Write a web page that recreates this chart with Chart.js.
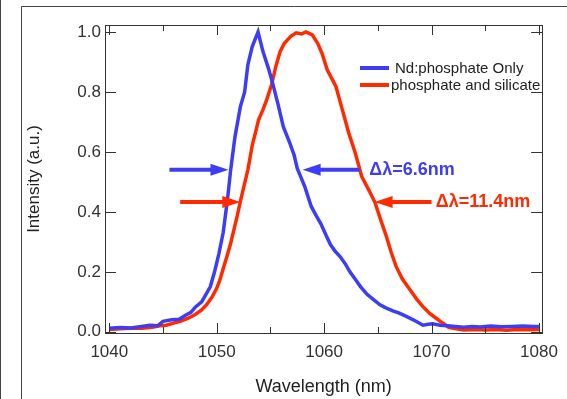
<!DOCTYPE html>
<html lang="en">
<head>
    <meta charset="UTF-8">
    <title>Emission spectra</title>
    <script src="https://cdn.jsdelivr.net/npm/chart.js"></script>
    <style>
        body {
            margin: 0;
            background: #fff;
        }
        #wrap {
            width: 567px;
            height: 399px;
        }
    </style>
</head>
<body>
    <div id="wrap"><canvas id="spec" width="567" height="399"></canvas></div>

    <script>
        // Nd:phosphate only (blue)
        const blueX = [1040.0, 1041.0, 1042.0, 1043.0, 1043.8, 1044.5, 1045.0, 1045.8, 1046.5, 1047.1,
            1047.6, 1048.0, 1048.6, 1049.0, 1049.4, 1049.8, 1050.2, 1050.6, 1051.0, 1051.3,
            1051.7, 1052.2, 1052.6, 1052.9, 1053.3, 1053.85, 1054.3, 1054.8, 1055.2, 1055.7,
            1056.2, 1056.8, 1057.2, 1057.5, 1058.2, 1058.8, 1059.3, 1059.7, 1060.2, 1060.6,
            1061.0, 1061.5, 1062.0, 1062.4, 1062.9, 1063.4, 1064.0, 1064.6, 1065.2, 1065.8,
            1066.4, 1067.0, 1067.6, 1068.3, 1068.8, 1069.2, 1069.7, 1070.1, 1070.8, 1071.5,
            1072.2, 1073.0, 1073.8, 1074.5, 1075.5, 1076.5, 1077.5, 1078.5, 1079.5, 1080.0];
        const blueY = [0.012, 0.014, 0.013, 0.018, 0.022, 0.020, 0.035, 0.040, 0.042, 0.055,
            0.065, 0.082, 0.100, 0.125, 0.150, 0.200, 0.260, 0.330, 0.440, 0.540,
            0.650, 0.750, 0.800, 0.890, 0.950, 1.000, 0.935, 0.880, 0.830, 0.760,
            0.684, 0.630, 0.590, 0.545, 0.484, 0.418, 0.385, 0.360, 0.320, 0.290,
            0.270, 0.250, 0.225, 0.200, 0.175, 0.150, 0.125, 0.107, 0.090, 0.079,
            0.070, 0.062, 0.052, 0.040, 0.030, 0.022, 0.025, 0.027, 0.022, 0.020,
            0.018, 0.015, 0.018, 0.016, 0.019, 0.017, 0.018, 0.019, 0.018, 0.018];

        // phosphate and silicate (red)
        const redX = [1040.0, 1041.0, 1042.0, 1043.0, 1044.0, 1044.7, 1045.3, 1045.9, 1046.6, 1047.4,
            1048.0, 1048.6, 1049.1, 1049.6, 1050.0, 1050.3, 1050.6, 1050.95, 1051.3, 1051.6,
            1051.9, 1052.2, 1052.5, 1052.9, 1053.3, 1053.9, 1054.3, 1054.6, 1055.1, 1055.5,
            1055.9, 1056.3, 1056.9, 1057.4, 1057.9, 1058.3, 1058.6, 1058.9, 1059.4, 1059.8,
            1060.3, 1061.1, 1061.7, 1062.3, 1062.9, 1063.5, 1064.2, 1064.75, 1065.3, 1065.8,
            1066.2, 1066.7, 1067.3, 1068.0, 1068.6, 1069.2, 1069.8, 1070.4, 1071.0, 1071.6,
            1072.3, 1073.0, 1074.0, 1075.0, 1076.0, 1077.0, 1078.0, 1079.0, 1080.0];
        const redY = [0.008, 0.010, 0.012, 0.012, 0.015, 0.020, 0.022, 0.028, 0.035, 0.046,
            0.058, 0.073, 0.092, 0.118, 0.145, 0.173, 0.210, 0.251, 0.295, 0.340,
            0.385, 0.434, 0.480, 0.540, 0.620, 0.707, 0.740, 0.768, 0.823, 0.884,
            0.934, 0.962, 0.985, 0.997, 0.993, 1.000, 0.995, 0.990, 0.962, 0.929,
            0.873, 0.818, 0.740, 0.662, 0.596, 0.518, 0.470, 0.430, 0.370, 0.318,
            0.270, 0.218, 0.175, 0.140, 0.110, 0.084, 0.062, 0.046, 0.030, 0.015,
            0.010, 0.006, 0.008, 0.006, 0.008, 0.005, 0.008, 0.007, 0.008];

        const seriesNames = ['Nd:phosphate Only', 'phosphate and silicate'];
        const seriesColors = ['#3d3df7', '#ff2a00'];

        // FWHM markers: [fromX, toX, y] in data units, arrow head at toX
        const blueArrows = [[1045.6, 1051.1, 0.54], [1063.3, 1058.0, 0.54]];
        const redArrows = [[1046.6, 1052.2, 0.433], [1070.0, 1064.7, 0.433]];
        const fwhmLabels = ['\u0394\u03bb=6.6nm', '\u0394\u03bb=11.4nm'];
        const fwhmLabelPos = [[1064.2, 0.54], [1070.4, 0.433]];

        const FONT = '"Liberation Sans", Arial, sans-serif';
        const INK = '#333';

        const toPoints = (xs, ys) => xs.map((x, i) => ({ x: x, y: ys[i] }));

        const framePlugin = {
            id: 'frame',
            beforeDraw(chart) {
                const c = chart.ctx;
                c.save();
                c.strokeStyle = '#444';
                c.lineWidth = 1;
                c.beginPath();
                c.moveTo(0.5, 0); c.lineTo(0.5, 399);
                c.moveTo(21.5, 6.5); c.lineTo(21.5, 399);
                c.moveTo(21.5, 6.5); c.lineTo(567, 6.5);
                c.stroke();
                c.restore();
            },
            afterDraw(chart) {
                const c = chart.ctx;
                const a = chart.chartArea;
                const xs = chart.scales.x, ys = chart.scales.y;
                c.save();
                c.strokeStyle = INK;
                c.lineWidth = 1;
                c.strokeRect(Math.round(a.left) + 0.5, Math.round(a.top) + 0.5,
                    Math.round(a.right - a.left), Math.round(a.bottom - a.top));

                // inward ticks on all four sides
                c.beginPath();
                for (let v = 1040; v <= 1080; v += 5) {
                    const px = Math.round(xs.getPixelForValue(v)) + 0.5;
                    const len = v % 10 === 0 ? 10 : 6;
                    c.moveTo(px, a.bottom); c.lineTo(px, a.bottom - len);
                    c.moveTo(px, a.top); c.lineTo(px, a.top + len);
                }
                for (let k = 0; k <= 5; k++) {
                    const py = Math.round(ys.getPixelForValue(k * 0.2)) + 0.5;
                    c.moveTo(a.left, py); c.lineTo(a.left + 11, py);
                    c.moveTo(a.right, py); c.lineTo(a.right - 11, py);
                }
                c.stroke();

                // FWHM arrows
                const arrow = (from, to, y, color) => {
                    const x0 = xs.getPixelForValue(from), x1 = xs.getPixelForValue(to);
                    const py = ys.getPixelForValue(y);
                    const dir = x1 > x0 ? 1 : -1;
                    c.strokeStyle = color;
                    c.fillStyle = color;
                    c.lineWidth = 4;
                    c.beginPath();
                    c.moveTo(x0, py); c.lineTo(x1 - dir * 14, py);
                    c.stroke();
                    c.beginPath();
                    c.moveTo(x1, py);
                    c.lineTo(x1 - dir * 18, py - 6);
                    c.lineTo(x1 - dir * 18, py + 6);
                    c.closePath();
                    c.fill();
                };
                blueArrows.forEach(r => arrow(r[0], r[1], r[2], seriesColors[0]));
                redArrows.forEach(r => arrow(r[0], r[1], r[2], seriesColors[1]));

                c.font = 'bold 18px ' + FONT;
                c.textBaseline = 'middle';
                c.textAlign = 'left';
                fwhmLabels.forEach((t, i) => {
                    c.fillStyle = seriesColors[i];
                    c.fillText(t, xs.getPixelForValue(fwhmLabelPos[i][0]), ys.getPixelForValue(fwhmLabelPos[i][1]));
                });

                // legend
                const legendY = [68, 85];
                const legendTextX = [395, 391];
                c.font = '15px ' + FONT;
                seriesNames.forEach((name, i) => {
                    c.strokeStyle = seriesColors[i];
                    c.lineWidth = 4;
                    c.beginPath();
                    c.moveTo(360, legendY[i]); c.lineTo(389, legendY[i]);
                    c.stroke();
                    c.fillStyle = '#222';
                    c.fillText(name, legendTextX[i], legendY[i] + 1);
                });
                c.restore();
            }
        };

        const ctx = document.getElementById('spec').getContext('2d');
        new Chart(ctx, {
            type: 'scatter',
            data: {
                datasets: [
                    {
                        label: seriesNames[0],
                        data: toPoints(blueX, blueY),
                        showLine: true,
                        borderColor: seriesColors[0],
                        borderWidth: 3.5,
                        pointRadius: 0,
                        tension: 0
                    },
                    {
                        label: seriesNames[1],
                        data: toPoints(redX, redY),
                        showLine: true,
                        borderColor: seriesColors[1],
                        borderWidth: 3.5,
                        pointRadius: 0,
                        tension: 0
                    }
                ]
            },
            options: {
                responsive: false,
                animation: false,
                layout: { padding: { left: 0, top: 25, right: 20, bottom: 0 } },
                plugins: {
                    legend: { display: false },
                    tooltip: { enabled: false }
                },
                scales: {
                    x: {
                        type: 'linear',
                        min: 1039.6,
                        max: 1080.3,
                        grid: { display: false, drawTicks: false },
                        border: { display: false },
                        ticks: {
                            stepSize: 10,
                            includeBounds: false,
                            padding: 9,
                            color: INK,
                            font: { family: FONT, size: 17 },
                            callback: v => v.toString()
                        },
                        title: {
                            display: true,
                            text: 'Wavelength (nm)',
                            color: '#222',
                            font: { family: FONT, size: 18 },
                            padding: { top: 0, bottom: 1 }
                        },
                        afterFit: s => { s.height = 66; }
                    },
                    y: {
                        min: -0.004,
                        max: 1.023,
                        grid: { display: false, drawTicks: false },
                        border: { display: false },
                        ticks: {
                            stepSize: 0.2,
                            includeBounds: false,
                            padding: 4,
                            color: INK,
                            font: { family: FONT, size: 17 },
                            callback: v => v.toFixed(1)
                        },
                        title: {
                            display: true,
                            text: 'Intensity (a.u.)',
                            color: '#222',
                            font: { family: FONT, size: 17 },
                            padding: { top: 24, bottom: 0 }
                        },
                        afterFit: s => { s.width = 105; }
                    }
                }
            },
            plugins: [framePlugin]
        });
    </script>
</body>
</html>
